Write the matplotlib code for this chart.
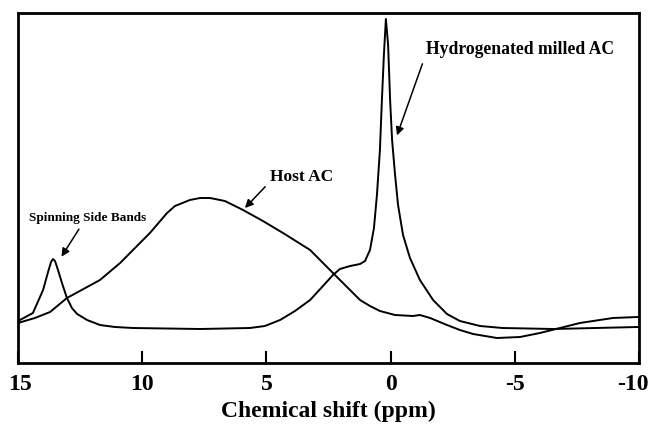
import matplotlib
matplotlib.use("Agg")
import matplotlib.pyplot as plt
import matplotlib.transforms as mtransforms

# Host AC spectrum (ppm, intensity a.u.)
host_ppm = [15.0, 14.32, 13.71, 13.03, 11.70, 10.89, 10.37, 9.69, 9.00, 8.68, 8.08,
            7.67, 7.27, 6.67, 5.94, 5.14, 4.33, 3.24, 2.32, 1.23, 0.83, 0.43,
            -0.18, -0.90, -1.18, -1.59, -2.27, -2.79, -3.32, -4.28, -5.21, -6.01,
            -6.82, -7.62, -8.95, -9.96]
host_int = [40, 45, 51, 65, 83, 100, 113, 130, 150, 157, 163,
            165, 165, 162, 153, 142, 130, 113, 90, 63, 57, 52,
            48, 47, 48, 45, 38, 33, 29, 25, 26, 30,
            35, 40, 45, 46]

# Hydrogenated milled AC spectrum
hyd_ppm = [15.0, 14.92, 14.40, 13.99, 13.79, 13.67, 13.59, 13.51, 13.39, 13.23, 13.03,
           12.83, 12.62, 12.22, 11.70, 11.10, 10.37, 7.67, 5.66, 5.06, 4.45, 3.85,
           3.24, 2.76, 2.32, 2.04, 1.63, 1.23, 1.03, 0.83, 0.67, 0.55, 0.43, 0.35,
           0.27, 0.19, 0.10, 0.02, -0.06, -0.18, -0.30, -0.50, -0.78, -1.18, -1.71,
           -2.27, -2.79, -3.60, -4.50, -6.54, -9.96]
hyd_int = [42, 43, 50, 73, 91, 101, 104, 102, 93, 80, 65,
           55, 49, 43, 38, 36, 35, 34, 35, 37, 43, 52,
           63, 76, 88, 94, 97, 99, 102, 113, 135, 168, 213, 263,
           308, 344, 318, 263, 223, 188, 158, 128, 105, 83, 63,
           49, 42, 37, 35, 34, 36]

xticks = [15, 10, 5, 0, -5, -10]

plt.rcParams['font.family'] = ['Liberation Serif', 'DejaVu Serif']

fig = plt.figure(figsize=(6.53, 4.33), dpi=100)
ax = fig.add_axes([18/653, 1 - 363/433, (639-18)/653, (363-13)/433])

ax.plot(host_ppm, host_int, color='black', lw=1.4)
ax.plot(hyd_ppm, hyd_int, color='black', lw=1.4)

ax.set_xlim(15, -10)
ax.set_ylim(0, 350)
ax.set_yticks([])
ax.set_xticks(xticks)
labels = ax.set_xticklabels([str(t) for t in xticks], fontsize=17, fontweight='bold')
ax.tick_params(axis='x', direction='in', length=9, width=1.5, pad=8)
# nudge edge labels inwards so they stay inside the figure
offset_r = mtransforms.ScaledTranslation(-6/100, 0, fig.dpi_scale_trans)
offset_l = mtransforms.ScaledTranslation(2/100, 0, fig.dpi_scale_trans)
labels[-1].set_transform(labels[-1].get_transform() + offset_r)
labels[0].set_transform(labels[0].get_transform() + offset_l)
for s in ax.spines.values():
    s.set_linewidth(2)
ax.set_xlabel('Chemical shift (ppm)', fontsize=17, fontweight='bold', labelpad=4)

arrow = dict(arrowstyle='-|>', color='black', lw=1.1, mutation_scale=12)
ax.annotate('Spinning Side Bands', xy=(13.31, 104), xytext=(12.18, 145),
            fontsize=9.5, fontweight='bold', ha='center', va='center',
            arrowprops=dict(arrow, relpos=(0.45, 0)))
ax.annotate('Host AC', xy=(5.94, 153), xytext=(4.86, 186),
            fontsize=12.5, fontweight='bold', ha='left', va='center',
            arrowprops=dict(arrow, relpos=(0, 0.2)))
ax.annotate('Hydrogenated milled AC', xy=(-0.22, 225), xytext=(-1.43, 313),
            fontsize=12.7, fontweight='bold', ha='left', va='center',
            arrowprops=dict(arrow, relpos=(0, 0.3)))

fig.savefig('out.png', dpi=100)
